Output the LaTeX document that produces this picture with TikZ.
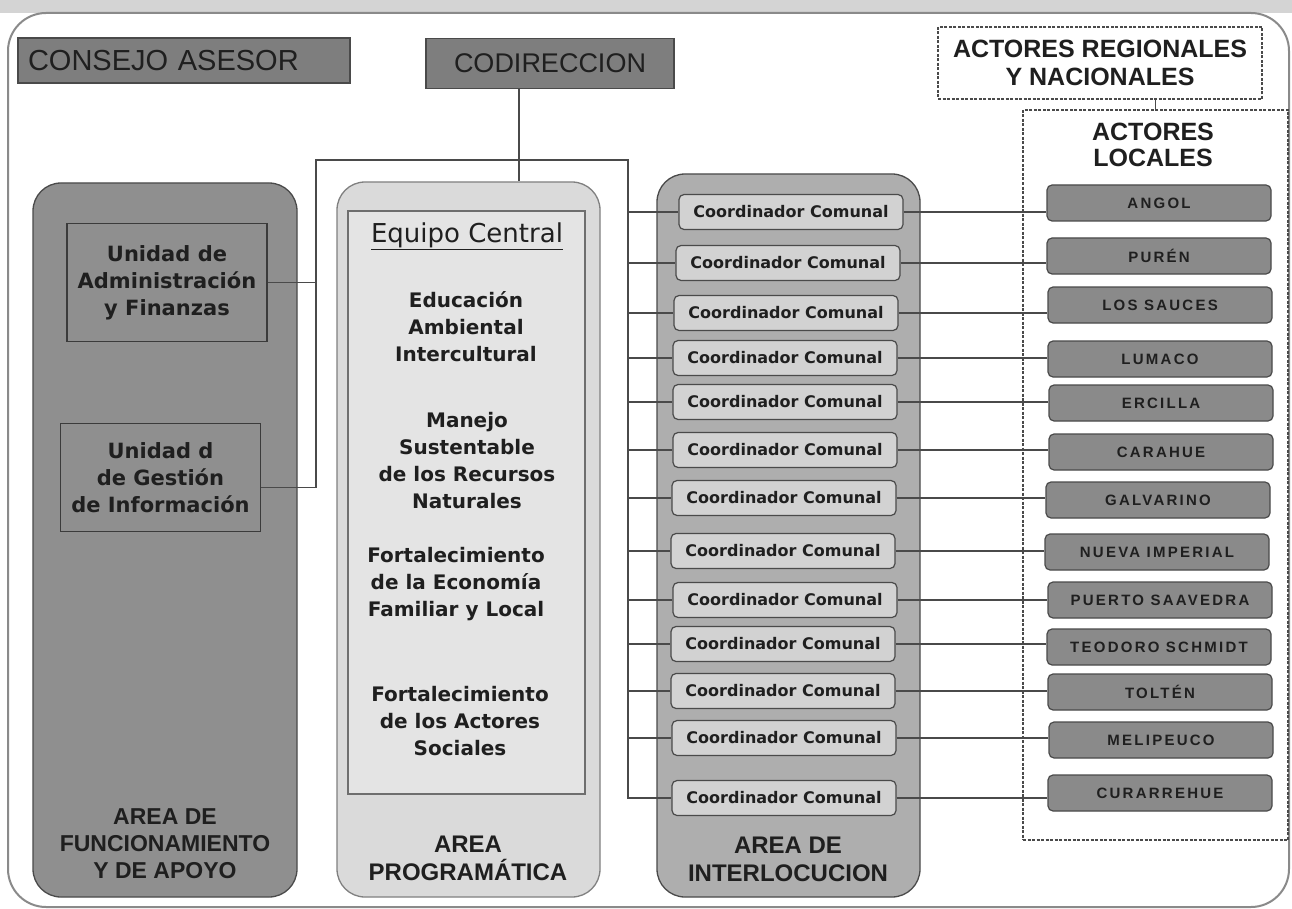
\documentclass[tikz,border=0pt]{standalone}
\usepackage{fontspec}
\setmainfont{Liberation Sans}
\newfontfamily\dv{DejaVu Sans}
\newfontfamily\actfont{Liberation Sans}[LetterSpace=15]
\definecolor{txt}{HTML}{1F1F1F}
\definecolor{edge}{HTML}{4A4A4A}
\definecolor{darkbox}{HTML}{7E7E7E}
\definecolor{leftarea}{HTML}{8F8F8F}
\definecolor{progout}{HTML}{DADADA}
\definecolor{progin}{HTML}{E4E4E4}
\definecolor{interarea}{HTML}{AEAEAE}
\definecolor{coordfill}{HTML}{D2D2D2}
\definecolor{actfill}{HTML}{8A8A8A}
\definecolor{band}{HTML}{D4D4D4}
\definecolor{framec}{HTML}{8A8A8A}
\begin{document}
\begin{tikzpicture}[x=1pt,y=-1pt,
  area/.style={draw=edge, line width=1.3pt, rounded corners=28pt, inner sep=0pt},
  topbox/.style={draw=edge, line width=1.3pt, fill=darkbox, inner sep=0pt, text=txt},
  unitbox/.style={draw=edge!80!black, line width=1.3pt, fill=leftarea, inner sep=0pt,
     minimum width=200pt, text=txt, align=center,
     font=\dv\bfseries\fontsize{21}{27}\selectfont},
  coord/.style={draw=edge, line width=1.2pt, fill=coordfill, rounded corners=5pt,
     minimum width=224pt, minimum height=35pt, inner sep=0pt, text=txt,
     font=\dv\bfseries\fontsize{16}{18}\selectfont},
  actor/.style={draw=edge, line width=1.2pt, fill=actfill, rounded corners=5pt,
     minimum width=224pt, minimum height=36pt, inner sep=0pt, text=txt,
     font=\actfont\bfseries\fontsize{15}{17}\selectfont},
  conn/.style={draw=edge, line width=1.4pt},
  dashbox/.style={draw=edge, line width=1.3pt, dash pattern=on 3pt off 1.5pt, inner sep=0pt},
  arealabel/.style={font=\bfseries\fontsize{24}{28}\selectfont, align=center, text=txt},
  midtext/.style={font=\dv\bfseries\fontsize{20}{27}\selectfont, align=center, text=txt},
  bigbold/.style={font=\bfseries\fontsize{25}{28}\selectfont, align=center, text=txt}
]
\useasboundingbox (0,0) rectangle (1292,909);
% top band and outer frame
\fill[band] (0,0) rectangle (1292,13);
\draw[line width=2pt, draw=framec, fill=white, rounded corners=38pt] (8,13) rectangle (1289,907);

% areas
\node[area, fill=leftarea, minimum width=264pt, minimum height=714pt] (apoyo) at (165,540) {};
\node[area, draw=edge!70, fill=progout, minimum width=263pt, minimum height=715pt] (prog) at (468.5,539.5) {};
\node[draw=edge!80, line width=1.2pt, fill=progin, minimum width=237pt, minimum height=583pt, inner sep=0pt] (inner) at (466.5,502.5) {};
\node[area, fill=interarea, minimum width=263pt, minimum height=723pt] (inter) at (788.5,535.5) {};

% top boxes
\node[topbox, text width=312pt, inner xsep=10pt, minimum height=45pt, align=left,
      font=\fontsize{29}{31}\selectfont] (consejo) at (184,60.5) {CONSEJO ASESOR};
\node[topbox, minimum width=248pt, minimum height=50pt,
      font=\fontsize{27}{29}\selectfont] (codir) at (550,63.5) {CODIRECCION};

% dashed boxes
\node[dashbox, minimum width=324pt, minimum height=72pt, bigbold] (reg) at (1100,63)
  {ACTORES REGIONALES\\Y NACIONALES};
\node[dashbox, minimum width=265pt, minimum height=730pt] (loc) at (1155.5,475) {};
\node[bigbold, font=\bfseries\fontsize{25}{26}\selectfont] (loclab) at (1153,145) {ACTORES\\LOCALES};

% unidades
\node[unitbox, minimum height=118pt] (uaf) at (167,282.5) {Unidad de\\Administración\\y Finanzas};
\node[unitbox, minimum height=108pt] (ugi) at (160.5,477.5) {Unidad d\\de Gestión\\de Información};

% programa texts
\node[text=txt, font=\dv\fontsize{26}{28}\selectfont] (eq) at (467,236) {\underline{Equipo Central}};
\node[midtext] (edu) at (466,327) {Educación\\Ambiental\\Intercultural};
\node[midtext] (man) at (467,461) {Manejo\\Sustentable\\de los Recursos\\Naturales};
\node[midtext] (eco) at (456,584) {Fortalecimiento\\de la Economía\\Familiar y Local};
\node[midtext] (soc) at (460,721) {Fortalecimiento\\de los Actores\\Sociales};

% area labels
\node[arealabel, font=\bfseries\fontsize{23}{27}\selectfont] (lab1) at (165,844) {AREA DE\\FUNCIONAMIENTO\\Y DE APOYO};
\node[arealabel] (lab2) at (468,858) {AREA\\PROGRAMÁTICA};
\node[arealabel] (lab3) at (788,859) {AREA DE\\INTERLOCUCION};

% coordinadores
\node[coord] (c1) at (791,212) {Coordinador Comunal};
\node[coord] (c2) at (788,263) {Coordinador Comunal};
\node[coord] (c3) at (786,313) {Coordinador Comunal};
\node[coord] (c4) at (785,358) {Coordinador Comunal};
\node[coord] (c5) at (785,402) {Coordinador Comunal};
\node[coord] (c6) at (785,450) {Coordinador Comunal};
\node[coord] (c7) at (784,498) {Coordinador Comunal};
\node[coord] (c8) at (783,551) {Coordinador Comunal};
\node[coord] (c9) at (785,600) {Coordinador Comunal};
\node[coord] (c10) at (783,644) {Coordinador Comunal};
\node[coord] (c11) at (783,691) {Coordinador Comunal};
\node[coord] (c12) at (784,738) {Coordinador Comunal};
\node[coord] (c13) at (784,798) {Coordinador Comunal};

% actores locales
\node[actor] (a1) at (1159,203) {ANGOL};
\node[actor] (a2) at (1159,256) {PURÉN};
\node[actor] (a3) at (1160,305) {LOS SAUCES};
\node[actor] (a4) at (1160,359) {LUMACO};
\node[actor] (a5) at (1161,403) {ERCILLA};
\node[actor] (a6) at (1161,452) {CARAHUE};
\node[actor] (a7) at (1158,500) {GALVARINO};
\node[actor] (a8) at (1157,552) {NUEVA IMPERIAL};
\node[actor] (a9) at (1160,600) {PUERTO SAAVEDRA};
\node[actor] (a10) at (1159,647) {TEODORO SCHMIDT};
\node[actor] (a11) at (1160,692) {TOLTÉN};
\node[actor] (a12) at (1161,740) {MELIPEUCO};
\node[actor] (a13) at (1160,793) {CURARREHUE};

% connectors
\coordinate (tl) at (316,160);
\coordinate (tr) at (628,160);
\draw[conn] ([xshift=-31pt]codir.south) -- ([xshift=-31pt]codir.south |- prog.north);
\draw[conn] (uaf.east) -- (uaf.east -| tl);
\draw[conn] ([yshift=-10pt]ugi.east) -- ([yshift=-10pt]ugi.east -| tl) -- (tl) -- (tr)
   -- (tr |- c13.west) -- (c13.west);
\foreach \i in {1,...,12} {
  \draw[conn] (tr |- c\i.west) -- (c\i.west);
}
\foreach \i in {1,...,13} {
  \draw[conn] (c\i.east) -- (c\i.east -| a\i.west);
}
\draw[draw=edge, line width=0.8pt] (loc.north |- reg.south) -- (loc.north);
\end{tikzpicture}
\end{document}
